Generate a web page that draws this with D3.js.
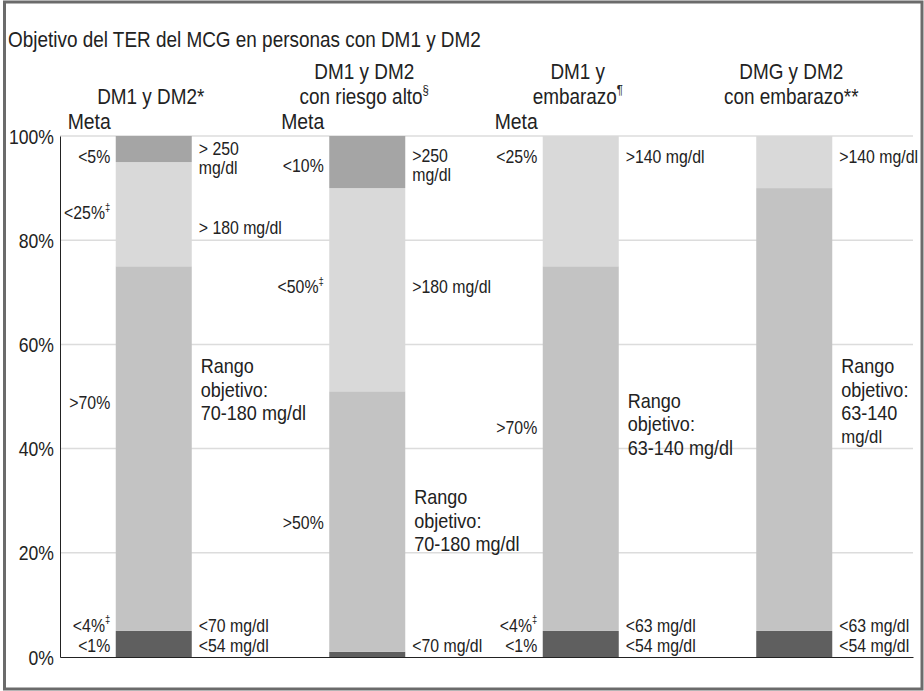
<!DOCTYPE html>
<meta charset="utf-8">
<style>
  body { margin: 0; background: #fff; }
  text { font-family: "Liberation Sans", Arial, sans-serif; fill: #222; }
</style>
<script src="https://d3js.org/d3.v7.min.js"></script>
<div id="chart"></div>
<script>

// titulo y encabezados
var title = "Objetivo del TER del MCG en personas con DM1 y DM2"
var headers = [["DM1 y DM2*"], ["DM1 y DM2", "con riesgo alto§"], ["DM1 y", "embarazo¶"], ["DMG y DM2", "con embarazo**"]]
var metaCols = [0, 1, 2]

// porcentaje de tiempo en cada rango (de abajo hacia arriba)
var lowPct = [5, 1, 5, 5]
var inRangePct = [70, 50, 70, 85]
var highPct = [20, 39, 25, 10]
var veryHighPct = [5, 10, 0, 0]

var yTicks = [0, 20, 40, 60, 80, 100]

// etiquetas de meta (izquierda) : columna, valor %, texto
var goalCol = [0, 0, 0, 0, 0, 1, 1, 1, 2, 2, 2, 2]
var goalAt = [96, 85.2, 48.8, 6.1, 2.1, 94.4, 71, 25.7, 96, 44, 6.1, 2.1]
var goalText = ["<5%", "<25%‡", ">70%", "<4%‡", "<1%", "<10%", "<50%‡", ">50%", "<25%", ">70%", "<4%‡", "<1%"]

// etiquetas de umbral (derecha)
var rangeCol = [0, 0, 0, 0, 1, 1, 1, 2, 2, 2, 3, 3, 3]
var rangeAt = [97.5, 82.5, 6.1, 2.1, 96.2, 71, 2.1, 96, 6.1, 2.1, 96, 6.1, 2.1]
var rangeText = [["> 250", "mg/dl"], ["> 180 mg/dl"], ["<70 mg/dl"], ["<54 mg/dl"],
                 [">250", "mg/dl"], [">180 mg/dl"], ["<70 mg/dl"],
                 [">140 mg/dl"], ["<63 mg/dl"], ["<54 mg/dl"],
                 [">140 mg/dl"], ["<63 mg/dl"], ["<54 mg/dl"]]

// "Rango objetivo"
var targetAt = [55.9, 30.7, 49.3, 55.9]
var targetText = [["Rango", "objetivo:", "70-180 mg/dl"], ["Rango", "objetivo:", "70-180 mg/dl"],
                  ["Rango", "objetivo:", "63-140 mg/dl"], ["Rango", "objetivo:", "63-140", "mg/dl"]]

var W = 924, H = 691
var margin = {left: 60, right: 11, top: 136, bottom: 34}
var narrow = 0.88   // la fuente original es condensada

var svg = d3.select("#chart").append("svg")
  .attr("width", W)
  .attr("height", H)

// marco
svg.append("rect")
  .attr("x", 4.5).attr("y", 2)
  .attr("width", 917.5).attr("height", 687)
  .attr("fill", "#fff")
  .attr("stroke", "#6b6b6b")
  .attr("stroke-width", 3)

var y = d3.scaleLinear()
  .domain([0, 100])
  .range([H - margin.bottom, margin.top])

var x = d3.scaleBand()
  .domain(d3.range(headers.length))
  .range([47, 901])
  .paddingInner(0.644)
  .paddingOuter(0.322)

// lineas guia
svg.selectAll(".grid")
  .data(yTicks.slice(1))
  .enter()
  .append("line")
    .attr("x1", margin.left)
    .attr("x2", W - margin.right)
    .attr("y1", function(d) { return y(d) })
    .attr("y2", function(d) { return y(d) })
    .attr("stroke", "#dcdcdc")
    .attr("stroke-width", 1.5)

// barras apiladas
var rows = headers.map(function(h, i) {
  return {i: i, low: lowPct[i], inRange: inRangePct[i], high: highPct[i], veryHigh: veryHighPct[i]}
})
var keys = ["low", "inRange", "high", "veryHigh"]
var color = d3.scaleOrdinal()
  .domain(keys)
  .range(["#5f5f5f", "#c3c3c3", "#d9d9d9", "#a5a5a5"])

var stacked = d3.stack().keys(keys)(rows)

svg.selectAll(".layer")
  .data(stacked)
  .enter()
  .append("g")
    .attr("fill", function(d) { return color(d.key) })
  .selectAll("rect")
  .data(function(d) { return d })
  .enter()
  .append("rect")
    .attr("x", function(d) { return x(d.data.i) })
    .attr("width", x.bandwidth())
    .attr("y", function(d) { return y(d[1]) })
    .attr("height", function(d) { return y(d[0]) - y(d[1]) })

// ejes
var yAxis = svg.append("g")
  .attr("transform", "translate(" + margin.left + ",0)")
  .call(d3.axisLeft(y).tickValues(yTicks).tickSize(0).tickPadding(5)
    .tickFormat(function(d) { return d + "%" }))
yAxis.select(".domain").attr("stroke", "#222")
yAxis.selectAll("text")
  .style("font-size", "20px")
  .attr("fill", "#222")
  .attr("x", -6 / narrow)
  .attr("dy", "0.35em")
  .attr("transform", "scale(" + narrow + ",1)")

svg.append("g")
  .attr("transform", "translate(0," + y(0) + ")")
  .call(d3.axisBottom(d3.scaleLinear().range([margin.left, W - margin.right])).ticks(0).tickSize(0))
  .select(".domain").attr("stroke", "#222")

// texto condensado, con superindices
function label(px, py, str, size, anchor) {
  var t = svg.append("text")
    .attr("transform", "translate(" + px + "," + py + ") scale(" + narrow + ",1)")
    .attr("text-anchor", anchor || "start")
    .attr("dominant-baseline", "central")
    .style("font-size", size + "px")
  str.split(/([‡§¶])/).forEach(function(p) {
    if (!p) return
    if ("‡§¶".indexOf(p) >= 0) {
      t.append("tspan").text(p).style("font-size", "0.6em").attr("baseline-shift", "55%")
    } else {
      t.append("tspan").text(p)
    }
  })
  return t
}

// titulo
label(8, 40, title, 21.5)

// encabezados
headers.forEach(function(lines, i) {
  lines.forEach(function(l, j) {
    label(x(i) + x.bandwidth() / 2 - 3, 97 - (lines.length - 1 - j) * 25.5, l, 21.5, "middle")
  })
})

// "Meta"
metaCols.forEach(function(c) {
  label(x(c) - 5, 121, "Meta", 22, "end")
})

// metas
goalText.forEach(function(s, k) {
  label(x(goalCol[k]) - 5.5, y(goalAt[k]), s, 18, "end")
})

// umbrales
rangeText.forEach(function(lines, k) {
  lines.forEach(function(l, j) {
    label(x(rangeCol[k]) + x.bandwidth() + 7, y(rangeAt[k]) + j * 18.5, l, 18)
  })
})

// rango objetivo
targetText.forEach(function(lines, i) {
  lines.forEach(function(l, j) {
    label(x(i) + x.bandwidth() + 9, y(targetAt[i]) + j * 23.5, l, (i == 3 && j == 3) ? 19 : 20.5)
  })
})

</script>
